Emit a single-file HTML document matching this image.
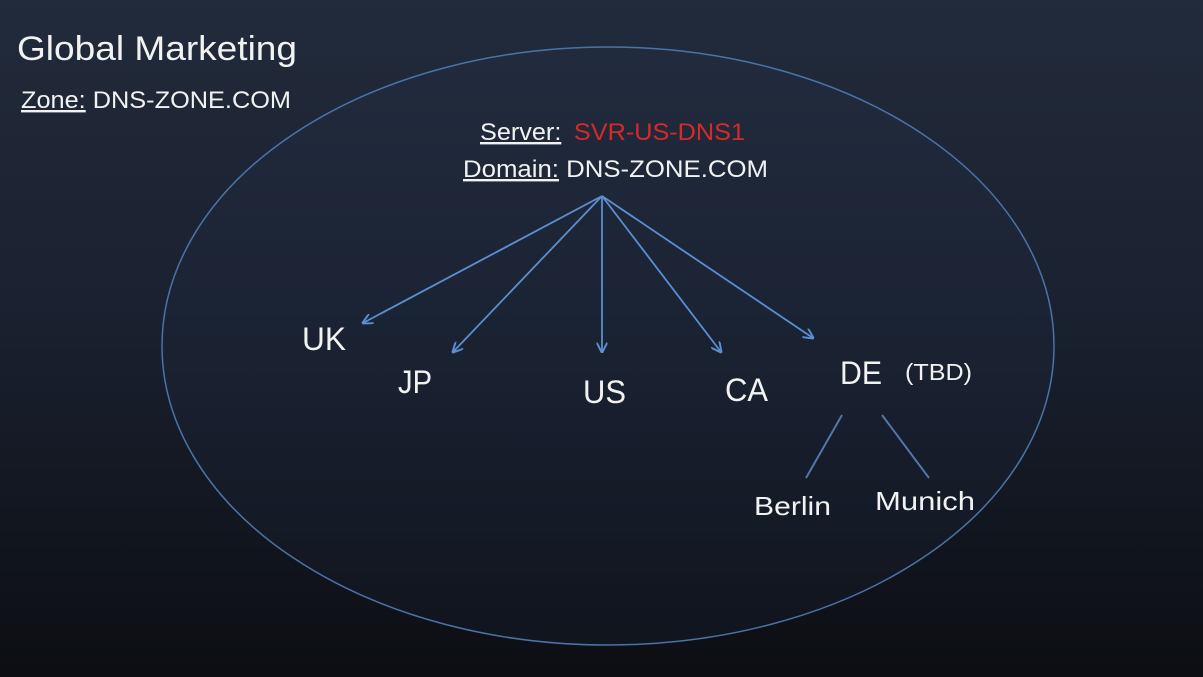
<!DOCTYPE html>
<html><head><meta charset="utf-8"><style>
html,body{margin:0;padding:0;width:1203px;height:677px;overflow:hidden;}
body{background:linear-gradient(#222b3b 0%,#1a2130 45%,#0c0e13 100%);}
svg{position:absolute;left:0;top:0;}
text{font-family:"Liberation Sans",sans-serif;fill:#f2f2f2;}
</style></head><body>
<svg width="1203" height="677" viewBox="0 0 1203 677">
<defs><marker id="a" viewBox="0 0 10 10" refX="9" refY="5" markerWidth="6" markerHeight="6" orient="auto"><path d="M0,0 L10,5 L0,10" fill="none" stroke="#5b8fd0" stroke-width="1.8"/></marker></defs>
<ellipse cx="608" cy="346" rx="446" ry="299" fill="rgba(40,60,90,0.12)" stroke="#4a73a8" stroke-width="1.5"/>
<g stroke="#5b8fd0" stroke-width="1.8" fill="none">
<line x1="602" y1="196" x2="363" y2="323" marker-end="url(#a)"/>
<line x1="602" y1="196" x2="453" y2="352" marker-end="url(#a)"/>
<line x1="602" y1="196" x2="602" y2="352" marker-end="url(#a)"/>
<line x1="602" y1="196" x2="721" y2="352" marker-end="url(#a)"/>
<line x1="602" y1="196" x2="813" y2="338" marker-end="url(#a)"/>
</g>
<g stroke="#4f77a8" stroke-width="2">
<line x1="842" y1="415" x2="806" y2="478"/>
<line x1="882" y1="415" x2="929" y2="478"/>
</g>
<text x="17" y="60" font-size="34" textLength="280" lengthAdjust="spacingAndGlyphs">Global Marketing</text>
<text x="21" y="108" font-size="24" textLength="270" lengthAdjust="spacingAndGlyphs"><tspan text-decoration="underline">Zone:</tspan> DNS-ZONE.COM</text>
<text x="480" y="140" font-size="24" textLength="265" lengthAdjust="spacingAndGlyphs"><tspan text-decoration="underline">Server:</tspan><tspan style="fill:#d42a2a" dx="12">SVR-US-DNS1</tspan></text>
<text x="463" y="177" font-size="24" textLength="305" lengthAdjust="spacingAndGlyphs"><tspan text-decoration="underline">Domain:</tspan> DNS-ZONE.COM</text>
<text x="302" y="350" font-size="32" textLength="44" lengthAdjust="spacingAndGlyphs">UK</text>
<text x="398" y="393" font-size="32" textLength="34" lengthAdjust="spacingAndGlyphs">JP</text>
<text x="583" y="403" font-size="32" textLength="43" lengthAdjust="spacingAndGlyphs">US</text>
<text x="725" y="401" font-size="32" textLength="43" lengthAdjust="spacingAndGlyphs">CA</text>
<text x="840" y="384" font-size="32" textLength="42" lengthAdjust="spacingAndGlyphs">DE</text>
<text x="905" y="380" font-size="23" textLength="67" lengthAdjust="spacingAndGlyphs">(TBD)</text>
<text x="754" y="515" font-size="26" textLength="77" lengthAdjust="spacingAndGlyphs">Berlin</text>
<text x="875" y="510" font-size="26" textLength="100" lengthAdjust="spacingAndGlyphs">Munich</text>
</svg>
</body></html>
